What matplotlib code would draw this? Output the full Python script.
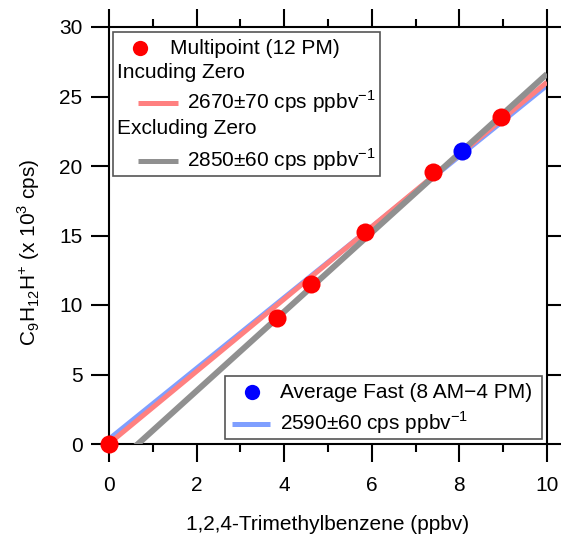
import numpy as np
import matplotlib.pyplot as plt
from matplotlib.patches import Rectangle
from matplotlib.ticker import MultipleLocator

plt.rcParams['font.family'] = ['Liberation Sans', 'DejaVu Sans']
plt.rcParams['mathtext.fontset'] = 'custom'
plt.rcParams['mathtext.rm'] = 'Liberation Sans'

# multipoint calibration (12 PM)
multi_x = [0.0, 3.84, 4.61, 5.84, 7.40, 8.95]
multi_y = [0.0, 9.05, 11.5, 15.25, 19.6, 23.55]
# average fast (8 AM-4 PM)
fast_x = [8.06]
fast_y = [21.05]

# fitted lines: slope, intercept (x 10^3 cps)
fit_incl = (2.60, 0.03)
fit_excl = (2.85, -1.88)
fit_fast = (2.545, 0.35)

label_incl = r'2670±70 cps ppbv$^{\mathregular{-1}}$'
label_excl = r'2850±60 cps ppbv$^{\mathregular{-1}}$'
label_fast = r'2590±60 cps ppbv$^{\mathregular{-1}}$'

red = '#ff0000'
pink = '#ff8080'
gray = '#909090'
lblue = '#7f9fff'
blue = '#0000ff'

fig = plt.figure(figsize=(5.61, 5.37), dpi=100)
ax = fig.add_axes([109/561, 1-444/537, 438/561, 417/537])

xx = np.array([0.0, 10.0])
ax.plot(xx, fit_fast[0]*xx + fit_fast[1], color=lblue, lw=3.6, solid_capstyle='butt', zorder=2)
ax.plot(xx, fit_incl[0]*xx + fit_incl[1], color=pink, lw=3.6, solid_capstyle='butt', zorder=3)
ax.plot(xx, fit_excl[0]*xx + fit_excl[1], color=gray, lw=4.3, solid_capstyle='butt', zorder=4)
ax.plot(multi_x, multi_y, 'o', color=red, ms=13, mec='none', zorder=5, clip_on=False)
ax.plot(fast_x, fast_y, 'o', color=blue, ms=13, mec='none', zorder=5)

ax.set_xlim(0, 10)
ax.set_ylim(0, 30)
ax.xaxis.set_major_locator(MultipleLocator(2))
ax.xaxis.set_minor_locator(MultipleLocator(1))
ax.yaxis.set_major_locator(MultipleLocator(5))
ax.tick_params(which='both', direction='out', width=1.5, top=True, right=True)
ax.tick_params(which='major', length=13)
ax.tick_params(which='minor', length=6)
ax.tick_params(axis='x', labelsize=15, pad=10)
ax.tick_params(axis='y', labelsize=15, pad=6)
ax.tick_params(labeltop=False, labelright=False)
for s in ax.spines.values():
    s.set_linewidth(1.5)

ax.set_xlabel('1,2,4-Trimethylbenzene (ppbv)', fontsize=15)
ax.set_ylabel(r'C$_{\mathregular{9}}$H$_{\mathregular{12}}$H$^{\mathregular{+}}$ (x 10$^{\mathregular{3}}$ cps)', fontsize=15)
ax.xaxis.set_label_coords(0.5, -0.170)
ax.yaxis.set_label_coords(-0.153, 0.46)

# legend boxes drawn in axes fraction
def px(x, y):
    return ((x - 109) / 438, (444 - y) / 417)

def box(x0, y0, x1, y1):
    a0 = px(x0, y1)
    a1 = px(x1, y0)
    ax.add_patch(Rectangle(a0, a1[0]-a0[0], a1[1]-a0[1], transform=ax.transAxes,
                           fill=False, ec='#555555', lw=1.2, zorder=6, clip_on=False))

def key_line(x0, x1, y, c):
    p0 = px(x0, y)
    p1 = px(x1, y)
    ax.plot([p0[0], p1[0]], [p0[1], p1[1]], transform=ax.transAxes, color=c, lw=3.6,
            solid_capstyle='butt', zorder=7, clip_on=False)

def key_dot(x, y, c):
    p = px(x, y)
    ax.plot([p[0]], [p[1]], 'o', transform=ax.transAxes, color=c, ms=11, mec='none', zorder=7)

def key_text(x, y, s):
    p = px(x, y)
    ax.text(p[0], p[1], s, transform=ax.transAxes, fontsize=15, ha='left', va='center', zorder=7)

box(113, 32, 380, 176)
key_dot(140, 48, red)
key_text(170, 48, 'Multipoint (12 PM)')
key_text(117, 72, 'Incuding Zero')
key_line(138, 178, 103, pink)
key_text(187, 102, label_incl)
key_text(117, 128, 'Excluding Zero')
key_line(138, 178, 161, gray)
key_text(187, 160, label_excl)

box(225, 376, 542, 439)
key_dot(252, 392, blue)
key_text(280, 392, 'Average Fast (8 AM\u22124 PM)')
key_line(232, 270, 424, lblue)
key_text(280, 423, label_fast)

fig.savefig('out.png', dpi=100)
